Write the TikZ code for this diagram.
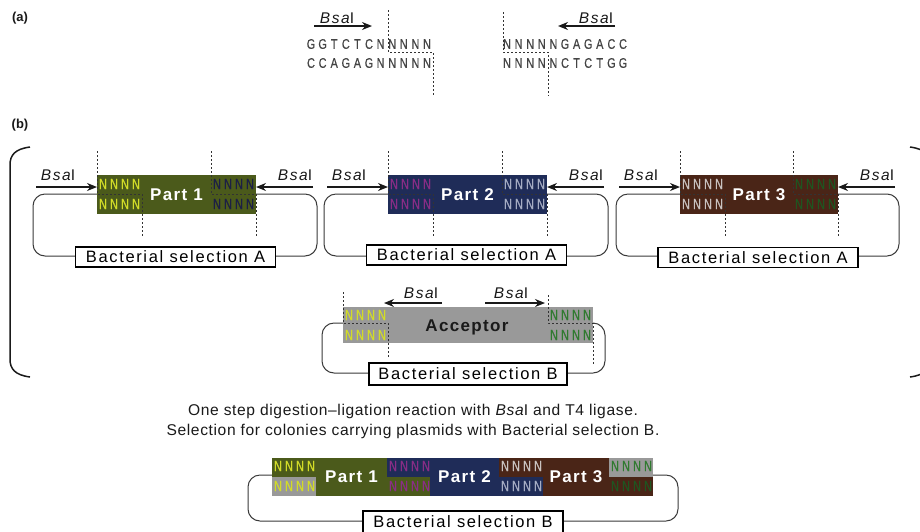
\documentclass[tikz,border=0pt]{standalone}
\usepackage{fontspec}
\setmainfont{Liberation Sans}
\newfontfamily\lsfont[LetterSpace=8]{Liberation Sans}
\newfontfamily\bsfont[LetterSpace=10]{Liberation Sans}
\newfontfamily\selfont[LetterSpace=10]{Liberation Sans}
\newfontfamily\titlefont[LetterSpace=4]{Liberation Sans}
\newfontfamily\narrowfont[FakeStretch=0.72,FakeBold=0.6]{Liberation Sans}
\newfontfamily\seqfont[FakeStretch=0.78,FakeBold=0.4]{Liberation Sans}
\usetikzlibrary{arrows.meta}
\definecolor{cOlive}{HTML}{4B5A1B}
\definecolor{cNavy}{HTML}{1F2C58}
\definecolor{cBrown}{HTML}{4A2517}
\definecolor{cGrey}{HTML}{999999}
\definecolor{nYellow}{HTML}{D2DC28}
\definecolor{nDark}{HTML}{1C1F45}
\definecolor{nPurple}{HTML}{8A2D86}
\definecolor{nLight}{HTML}{A6ADC4}
\definecolor{nPale}{HTML}{C9C2C0}
\definecolor{nDkGreen}{HTML}{1F5520}
\definecolor{nGreen}{HTML}{2F7A2F}
\definecolor{seqgray}{HTML}{444444}
\definecolor{cutgray}{HTML}{333333}
\definecolor{loopgray}{HTML}{3A3A3A}
\definecolor{inkblack}{HTML}{1A1A1A}
\tikzset{
 nch/.style={inner sep=0pt, font=\narrowfont\fontsize{15}{15}\selectfont},
 seqch/.style={inner sep=0pt, text=seqgray, font=\seqfont\fontsize{14}{14}\selectfont},
 cut/.style={draw=cutgray, line width=1pt, dash pattern=on 2pt off 2pt},
 bsarrow/.style={line width=1.4pt, draw=inkblack, -{Stealth[length=10pt,width=8pt]}},
 bslabel/.style={inner sep=0pt, text=inkblack, font=\bsfont\fontsize{15.5}{15.5}\selectfont},
 loopline/.style={draw=loopgray, line width=1pt, rounded corners=12pt},
 selbox/.style={draw=black, line width=1.2pt, fill=white, minimum width=200pt, minimum height=20pt, inner sep=0pt, text height=11.8pt, text depth=0pt, font=\selfont\fontsize{16.5}{16.5}\selectfont},
 parttext/.style={inner sep=0pt, text=white, text height=12pt, text depth=0pt, font=\lsfont\bfseries\fontsize{17}{17}\selectfont},
 acctext/.style={inner sep=0pt, text=inkblack, text height=12pt, text depth=0pt, font=\lsfont\bfseries\fontsize{17}{17}\selectfont},
 titletext/.style={inner sep=0pt, text=inkblack, text height=11.2pt, text depth=0pt, font=\titlefont\fontsize{15.6}{15.6}\selectfont},
 panellabel/.style={inner sep=0pt, text=inkblack, font=\bfseries\fontsize{13}{13}\selectfont},
 bracket/.style={draw=inkblack, line width=1.5pt}
}
\newcommand\bsai{{\itshape Bsa}I}
% #1 left x, #2 y, #3 colour
\newcommand\Nrow[3]{\foreach \k in {0,1,2,3}{\node[nch,text=#3] at ({#1+6+11*\k},#2) {N};}}
% #1 x0, #2 y, #3 step, #4 list
\newcommand\seqrow[4]{\foreach \c [count=\i from 0] in {#4}{\node[seqch] at ({#1+#3*\i},#2) {\c};}}
% #1 L, #2 R, #3 fill, #4 left N colour, #5 right N colour, #6 label, #7 selection y, #8 name
\newcommand\module[8]{%
 \draw[loopline] ({#1-64},194) rectangle ({#2+61},256);
 \fill[#3] (#1,175) rectangle (#2,214);
 \node[parttext] (#8) at ({(#1+#2)/2},194.5) {#6};
 \Nrow{#1}{184}{#4}\Nrow{#1}{204}{#4}\Nrow{#2-45}{184}{#5}\Nrow{#2-45}{204}{#5}
 \draw[cut] (#1,151) -- (#1,194) -- ({#1+45},194) -- ({#1+45},236);
 \draw[cut] ({#2-45},151) -- ({#2-45},194) -- (#2,194) -- (#2,237);
 \coordinate (#8-la) at ({#1-61},187); \coordinate (#8-lb) at (#1,187);
 \draw[bsarrow] (#8-la) -- (#8-lb);
 \node[bslabel] (#8-lt) at ({#1-39},175) {\bsai};
 \coordinate (#8-ra) at ({#2+57},187); \coordinate (#8-rb) at (#2,187);
 \draw[bsarrow] (#8-ra) -- (#8-rb);
 \node[bslabel] (#8-rt) at ({#2+39},175) {\bsai};
 \node[selbox] (#8-sel) at ({(#1+#2)/2-1},#7) {Bacterial selection A};
}
\begin{document}
\begin{tikzpicture}[x=1pt,y=-1pt]
\useasboundingbox (0,0) rectangle (920,531);
\fill[white] (0,0) rectangle (920,531);
% ---------- (a) ----------
\node[panellabel] (la) at (20,18) {(a)};
\seqrow{311}{44}{11.6}{G,G,T,C,T,C,N,N,N,N,N}
\seqrow{311}{63}{11.6}{C,C,A,G,A,G,N,N,N,N,N}
\seqrow{507}{44}{11.6}{N,N,N,N,N,G,A,G,A,C,C}
\seqrow{507}{63}{11.6}{N,N,N,N,N,C,T,C,T,G,G}
\draw[cut] (388,10) -- (388,52) -- (433,52) -- (433,95);
\draw[cut] (503,12) -- (503,52) -- (548,52) -- (548,96);
\node[bslabel] (a-lt) at (337,18) {\bsai};
\coordinate (a-la) at (314,26); \coordinate (a-lb) at (372,26);
\draw[bsarrow] (a-la) -- (a-lb);
\node[bslabel] (a-rt) at (596,18) {\bsai};
\coordinate (a-ra) at (615,26); \coordinate (a-rb) at (558,26);
\draw[bsarrow] (a-ra) -- (a-rb);
% ---------- (b) ----------
\node[panellabel] (lb) at (20,125) {(b)};
\draw[bracket] (30,147) .. controls (15,149) and (10,155) .. (10,165) -- (10,359) .. controls (10,369) and (15,375) .. (30,377);
\draw[bracket] (910,147) .. controls (925,149) and (930,155) .. (930,165) -- (930,359) .. controls (930,369) and (925,375) .. (910,377);
\module{97}{256}{cOlive}{nYellow}{nDark}{Part 1}{257}{p1}
\module{388}{547}{cNavy}{nPurple}{nLight}{Part 2}{255}{p2}
\module{680}{838}{cBrown}{nPale}{nDkGreen}{Part 3}{257.5}{p3}
% acceptor
\draw[loopline] (322,323) rectangle (605,373);
\fill[cGrey] (343,307) rectangle (593,343);
\node[acctext] (acc) at (467,325) {Acceptor};
\Nrow{343}{315}{nYellow}\Nrow{343}{335}{nYellow}
\Nrow{548}{315}{nGreen}\Nrow{548}{335}{nGreen}
\draw[cut] (343,292) -- (343,323) -- (388,323) -- (388,358);
\draw[cut] (548,295) -- (548,323) -- (593,323) -- (593,365);
\node[bslabel] (acc-lt) at (421,293) {\bsai};
\coordinate (acc-la) at (442,303); \coordinate (acc-lb) at (384,303);
\draw[bsarrow] (acc-la) -- (acc-lb);
\node[bslabel] (acc-rt) at (511,293) {\bsai};
\coordinate (acc-ra) at (485,303); \coordinate (acc-rb) at (545,303);
\draw[bsarrow] (acc-ra) -- (acc-rb);
\node[selbox, minimum width=198pt, minimum height=22pt] (acc-sel) at (468,374) {Bacterial selection B};
% text
\node[titletext] (t1) at (413,410) {One step digestion–ligation reaction with \bsai{} and T4 ligase.};
\node[titletext] (t2) at (413,430) {Selection for colonies carrying plasmids with Bacterial selection B.};
% ---------- assembled ----------
\draw[loopline] (248,475) rectangle (678,521);
\fill[cOlive] (272,458) rectangle (316,477); \fill[cGrey] (272,477) rectangle (316,496);
\fill[cOlive] (316,458) rectangle (387,496);
\fill[cNavy] (387,458) rectangle (430,477); \fill[cOlive] (387,477) rectangle (430,496);
\fill[cNavy] (430,458) rectangle (499,496);
\fill[cBrown] (499,458) rectangle (543,477); \fill[cNavy] (499,477) rectangle (543,496);
\fill[cBrown] (543,458) rectangle (609,496);
\fill[cGrey] (609,458) rectangle (653,477); \fill[cBrown] (609,477) rectangle (653,496);
\Nrow{272}{466}{nYellow}\Nrow{272}{486}{nYellow}
\Nrow{387}{466}{nPurple}\Nrow{387}{486}{nPurple}
\Nrow{499}{466}{nPale}\Nrow{499}{486}{nLight}
\Nrow{609}{466}{nGreen}\Nrow{609}{486}{nDkGreen}
\node[parttext] (f1) at (351.5,476) {Part 1};
\node[parttext] (f2) at (464.5,476) {Part 2};
\node[parttext] (f3) at (576,476) {Part 3};
\node[selbox, minimum height=22pt] (fin-sel) at (463,522) {Bacterial selection B};
\end{tikzpicture}
\end{document}
